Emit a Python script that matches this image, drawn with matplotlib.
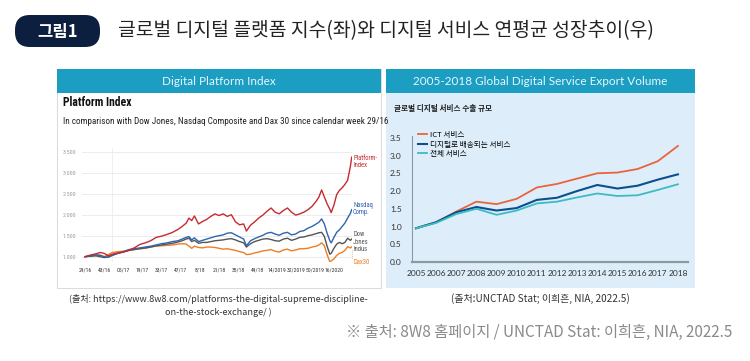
import matplotlib
matplotlib.use("Agg")
import matplotlib.pyplot as plt
from matplotlib import font_manager
from matplotlib.patches import Rectangle, FancyBboxPatch

KR = ["Noto Sans CJK KR", "DejaVu Sans"]

# pick a narrow face if one is installed, else fall back to Roboto with smaller sizes
installed = {f.name for f in font_manager.fontManager.ttflist}
NARROW = None
for name in ["Liberation Sans Narrow", "DejaVu Sans Condensed", "Roboto Condensed"]:
    if name in installed:
        NARROW = name
        break
if NARROW is None:
    NARROW = "Roboto"
    shrink = 0.72
else:
    shrink = 1.0

# left chart: weekly index since calendar week 29/16 (week number from start)
weeks = [0, 4, 8, 11, 14, 17, 20, 24, 28, 32,
         36, 40, 44, 48, 52, 56, 60, 64, 68, 71,
         74, 76, 78, 80, 83, 86, 89, 92, 95, 98,
         101, 104, 107, 110, 113, 116, 118, 121, 124, 127,
         130, 133, 136, 139, 142, 145, 148, 151, 154, 157,
         160, 163, 166, 169, 171, 173, 175, 177, 179, 180,
         182, 184, 186, 188, 190, 192, 194, 195]
platform = [1000, 1040, 1070, 1100, 1080, 1020, 1060, 1090, 1110, 1150,
            1210, 1290, 1330, 1380, 1460, 1490, 1530, 1580, 1650, 1720,
            1800, 1920, 1860, 1970, 1780, 1840, 1890, 1960, 2020, 1980,
            2020, 1960, 2000, 1830, 1760, 1780, 1610, 1750, 1830, 1920,
            1990, 2080, 2160, 2060, 2020, 2100, 2160, 2060, 1990, 2020,
            2060, 2120, 2200, 2320, 2420, 2590, 2420, 2260, 2130, 2050,
            2230, 2480, 2580, 2640, 2720, 2820, 3150, 3370]
nasdaq = [1000, 1020, 1040, 1030, 1000, 990, 1030, 1080, 1120, 1170,
          1190, 1210, 1230, 1250, 1280, 1310, 1330, 1360, 1380, 1420,
          1460, 1480, 1400, 1450, 1360, 1390, 1420, 1450, 1480, 1500,
          1520, 1560, 1570, 1520, 1470, 1420, 1260, 1380, 1430, 1470,
          1510, 1560, 1580, 1540, 1510, 1560, 1580, 1520, 1540, 1600,
          1620, 1680, 1720, 1780, 1820, 1900, 1780, 1560, 1380, 1330,
          1460, 1580, 1640, 1720, 1800, 1920, 2030, 2120]
dow = [1000, 1010, 1020, 1000, 980, 990, 1040, 1080, 1110, 1150,
       1170, 1190, 1210, 1230, 1260, 1280, 1300, 1320, 1350, 1380,
       1420, 1440, 1360, 1390, 1320, 1340, 1340, 1360, 1380, 1390,
       1400, 1420, 1430, 1400, 1360, 1330, 1230, 1310, 1360, 1390,
       1420, 1430, 1410, 1380, 1370, 1420, 1440, 1390, 1420, 1460,
       1470, 1500, 1520, 1550, 1570, 1580, 1480, 1250, 1060, 1080,
       1200, 1300, 1340, 1310, 1340, 1440, 1390, 1420]
dax = [1000, 1020, 1050, 1040, 1000, 1050, 1100, 1120, 1130, 1150,
       1170, 1190, 1200, 1230, 1250, 1260, 1270, 1280, 1300, 1310,
       1300, 1250, 1200, 1250, 1220, 1210, 1230, 1230, 1220, 1200,
       1180, 1190, 1170, 1150, 1120, 1100, 1050, 1060, 1090, 1110,
       1140, 1150, 1170, 1130, 1110, 1160, 1180, 1140, 1160, 1190,
       1190, 1200, 1230, 1250, 1280, 1330, 1260, 1050, 880, 900,
       950, 1030, 1080, 1100, 1150, 1240, 1210, 1230]
week_labels = ["29/16", "43/16", "05/17", "19/17", "33/17", "47/17", "8/18",
               "21/18", "35/18", "49/18", "14/2019", "32/2019", "50/2019", "16/2020"]
week_ticks = [0, 14, 28, 42, 56, 70, 84, 98, 112, 126, 140, 154, 168, 182]
y_ticks_left = [1000, 1500, 2000, 2500, 3000, 3500]
y_labels_left = ["1.000", "1.500", "2.000", "2.500", "3.000", "3.500"]

# right chart: export volume
years = list(range(2005, 2019))
ict = [0.95, 1.12, 1.42, 1.70, 1.63, 1.78, 2.10, 2.20, 2.35, 2.50, 2.52, 2.62, 2.84, 3.27]
digital = [0.95, 1.12, 1.40, 1.55, 1.45, 1.52, 1.75, 1.81, 2.00, 2.17, 2.07, 2.15, 2.32, 2.47]
total = [0.95, 1.10, 1.35, 1.50, 1.33, 1.45, 1.65, 1.70, 1.82, 1.93, 1.86, 1.88, 2.03, 2.19]
series_names = ["ICT 서비스", "디지털로 배송되는 서비스", "전체 서비스"]

W, H = 750, 361
fig = plt.figure(figsize=(W / 100, H / 100), dpi=100)
fig.patch.set_facecolor("white")

bg = fig.add_axes([0, 0, 1, 1], zorder=0)
bg.set_xlim(0, W)
bg.set_ylim(H, 0)
bg.axis("off")

# heading
bg.add_patch(FancyBboxPatch((15, 15), 85, 32, boxstyle="round,pad=0,rounding_size=15",
                            fc="#0c1f3f", ec="none"))
bg.text(57.5, 31.5, "그림1", color="white", fontsize=12, fontweight="bold",
        ha="center", va="center", family=KR)
bg.text(118, 31, "글로벌 디지털 플랫폼 지수(좌)와 디지털 서비스 연평균 성장추이(우)",
        color="#222222", fontsize=13.9, ha="left", va="center", family=KR)

# panels
teal = "#1c9dc2"
bg.add_patch(Rectangle((57, 69), 324, 219, fc="white", ec="#dcdcdc", lw=0.8))
bg.add_patch(Rectangle((57, 69), 324, 24, fc=teal, ec="none"))
bg.add_patch(Rectangle((386, 69), 309, 219, fc="#ddeefa", ec="none"))
bg.add_patch(Rectangle((386, 69), 309, 24, fc=teal, ec="none"))
bg.text(219, 81.5, "Digital Platform Index", color="#e6f7ff", fontsize=8.5,
        ha="center", va="center", family="Lato")
bg.text(540.5, 81.5, "2005-2018 Global Digital Service Export Volume", color="#e6f7ff",
        fontsize=8.5, ha="center", va="center", family="Lato")

# left chart
bg.text(63, 103, "Platform Index", fontsize=8.4 * shrink, fontweight="bold",
        color="#111111", ha="left", va="center", family=NARROW)
bg.text(63, 122, "In comparison with Dow Jones, Nasdaq Composite and Dax 30 since calendar week 29/16",
        fontsize=6.6 * shrink, color="#222222", ha="left", va="center", family=NARROW)

ax1 = fig.add_axes([82 / W, 1 - 262 / H, 270 / W, 114 / H], zorder=1)
ax1.set_facecolor("none")
ax1.set_xlim(-2.2, 195.2)
ax1.set_ylim(874, 3588)
for s in ax1.spines.values():
    s.set_visible(False)
for v in y_ticks_left:
    ax1.axhline(v, color="#e9e9e9", lw=0.6, zorder=0)
ax1.axvline(19.5, color="#ececec", lw=0.6, zorder=0)
ax1.plot(weeks, dax, color="#ef7d22", lw=1.0)
ax1.plot(weeks, dow, color="#555555", lw=1.0)
ax1.plot(weeks, nasdaq, color="#2e64b0", lw=1.0)
ax1.plot(weeks, platform, color="#c62a2f", lw=1.0)
ax1.set_yticks(y_ticks_left)
ax1.set_yticklabels(y_labels_left)
ax1.set_xticks(week_ticks)
ax1.set_xticklabels(week_labels)
ax1.tick_params(axis="y", length=0, pad=4, labelsize=4.3, labelcolor="#9a9a9a")
ax1.tick_params(axis="x", length=0, pad=4, labelsize=4.1 * shrink, labelcolor="#333333")
for t in ax1.get_xticklabels() + ax1.get_yticklabels():
    t.set_family(NARROW)

lab = dict(fontsize=4.8 * shrink, ha="left", va="center", linespacing=1.1, family=NARROW)
bg.text(353, 162, "Platform-\nIndex", color="#c62a2f", **lab)
bg.text(353, 209, "Nasdaq\nComp.", color="#2e64b0", **lab)
bg.text(353, 242, "Dow\nJones\nIndus", color="#555555", **lab)
bg.text(353, 262, "Dax30", color="#ef7d22", **lab)
bg.plot([351.5, 351.5], [250, 259], color="#ef7d22", lw=0.5, ls=":")

# right chart
bg.text(394, 108, "글로벌 디지털 서비스 수출 규모", fontsize=5.5, fontweight="bold",
        color="#222222", ha="left", va="center", family=KR)

ax2 = fig.add_axes([411.5 / W, 1 - 262 / H, 276.5 / W, 126 / H], zorder=1)
ax2.set_facecolor("none")
ax2.set_xlim(2004.78, 2018.5)
ax2.set_ylim(0, 3.55)
l1, = ax2.plot(years, ict, color="#e8643c", lw=1.3)
l2, = ax2.plot(years, digital, color="#0b4f8e", lw=1.5)
l3, = ax2.plot(years, total, color="#3cbcc2", lw=1.3)
for side in ["top", "right"]:
    ax2.spines[side].set_visible(False)
ax2.spines["left"].set_color("#8c9aa4")
ax2.spines["left"].set_linewidth(0.8)
ax2.spines["bottom"].set_color("#8c9aa4")
ax2.spines["bottom"].set_linewidth(1.6)
ax2.set_xticks(years)
ax2.set_yticks([0, 0.5, 1.0, 1.5, 2.0, 2.5, 3.0, 3.5])
ax2.set_yticklabels(["0.0", "0.5", "1.0", "1.5", "2.0", "2.5", "3.0", "3.5"])
ax2.tick_params(length=0, labelsize=6, labelcolor="#333333")
ax2.tick_params(axis="y", pad=7)
ax2.tick_params(axis="x", pad=6)
for t in ax2.get_xticklabels() + ax2.get_yticklabels():
    t.set_family("Lato")
ax2.legend([l1, l2, l3], series_names, loc="upper left",
           bbox_to_anchor=(418, 131), bbox_transform=bg.transData,
           frameon=False, borderpad=0, borderaxespad=0, handlelength=1.2,
           handletextpad=0.4, labelspacing=0.2, prop={"family": KR, "size": 5.5})

# sources
bg.text(218, 299, "(출처: https://www.8w8.com/platforms-the-digital-supreme-discipline-",
        fontsize=6.5, color="#333333", ha="center", va="center", family=KR)
bg.text(218, 312, "on-the-stock-exchange/ )", fontsize=6.5, color="#333333",
        ha="center", va="center", family=KR)
bg.text(540, 299, "(출처:UNCTAD Stat; 이희흔, NIA, 2022.5)", fontsize=7.2, color="#333333",
        ha="center", va="center", family=KR)
bg.text(732, 332, "※ 출처: 8W8 홈페이지 / UNCTAD Stat: 이희흔, NIA, 2022.5", fontsize=11,
        color="#8a8a8a", ha="right", va="center", family=KR)

fig.savefig("out.png", dpi=100)
